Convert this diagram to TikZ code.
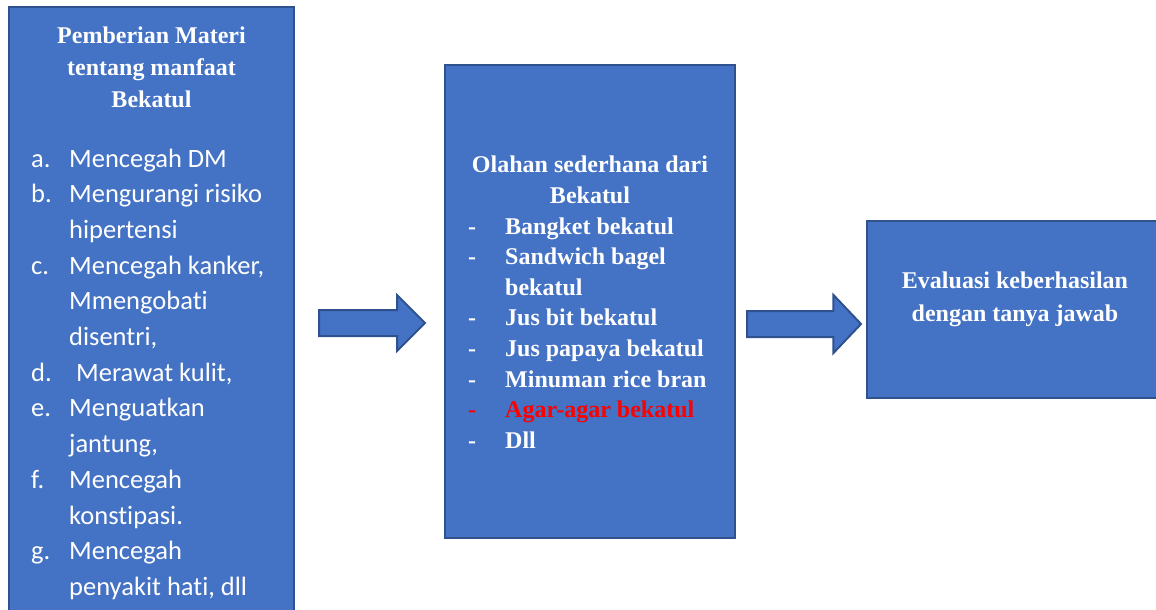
\documentclass[tikz,border=0pt]{standalone}
\usepackage{fontspec}
\setmainfont{Liberation Serif}
\newfontfamily\calibrifont[RawFeature=-liga]{Carlito}
\usetikzlibrary{shapes.arrows}
\definecolor{boxblue}{HTML}{4472C4}
\definecolor{edgeblue}{HTML}{2F528F}
\tikzset{
  kotak/.style={draw=edgeblue, fill=boxblue, line width=2pt, rectangle, inner sep=0pt},
  panah/.style={single arrow, draw=edgeblue, fill=boxblue, line width=2pt, inner xsep=0pt, inner ysep=12pt, minimum width=0pt, shape border rotate=0, anchor=tail},
  judul/.style={text=white, font=\bfseries\fontsize{24}{32}\selectfont, inner sep=0pt, anchor=base},
  daftar/.style={text=white, inner sep=0pt, anchor=base west}
}
\begin{document}
\begin{tikzpicture}[x=1pt,y=-1pt]
	\useasboundingbox (0,0) rectangle (1156,610);
	\node[kotak, minimum width=285pt, minimum height=620pt] (materi) at (151.5,317) {};
	\node[kotak, minimum width=290pt, minimum height=473pt] (olahan) at (590,301.5) {};
	\node[kotak, minimum width=293pt, minimum height=177pt] (evaluasi) at (1013.5,309.5) {};
	\node[panah, minimum height=106pt, single arrow head extend=15pt, single arrow tip angle=90] (panahsatu) at (318,323) {};
	\node[panah, minimum height=114pt, single arrow head extend=16pt, single arrow tip angle=93] (panahdua) at (746,324) {};
	\node[judul] (judulmateri) at (151.5,44) {\begin{tabular}[t]{@{}c@{}}Pemberian Materi\\tentang manfaat\\Bekatul\end{tabular}};
	\node[daftar, font=\calibrifont\fontsize{26.5}{35.7}\selectfont] (manfaat) at (31,167) {\begin{tabular}[t]{@{}p{38pt}@{}l@{}}
		a. & Mencegah DM\\
		b. & Mengurangi risiko\\
		   & hipertensi\\
		c. & Mencegah kanker,\\
		   & Mmengobati\\
		   & disentri,\\
		d. & \hspace{7pt}Merawat kulit,\\
		e. & Menguatkan\\
		   & jantung,\\
		f. & Mencegah\\
		   & konstipasi.\\
		g. & Mencegah\\
		   & penyakit hati, dll
	\end{tabular}};
	\node[judul, font=\bfseries\fontsize{24}{31}\selectfont] (judulolahan) at (590,172) {\begin{tabular}[t]{@{}c@{}}Olahan sederhana dari\\Bekatul\end{tabular}};
	\node[daftar, font=\bfseries\fontsize{24}{30.6}\selectfont] (resep) at (468,234) {\begin{tabular}[t]{@{}p{37pt}@{}l@{}}
		- & Bangket bekatul\\
		- & Sandwich bagel\\
		  & bekatul\\
		- & Jus bit bekatul\\
		- & Jus papaya bekatul\\
		- & Minuman rice bran\\
		\textcolor{red}{-} & \textcolor{red}{Agar-agar bekatul}\\
		- & Dll
	\end{tabular}};
	\node[judul, font=\bfseries\fontsize{24}{33}\selectfont] (judulevaluasi) at (1015,288) {\begin{tabular}[t]{@{}c@{}}Evaluasi keberhasilan\\dengan tanya jawab\end{tabular}};
\end{tikzpicture}
\end{document}
